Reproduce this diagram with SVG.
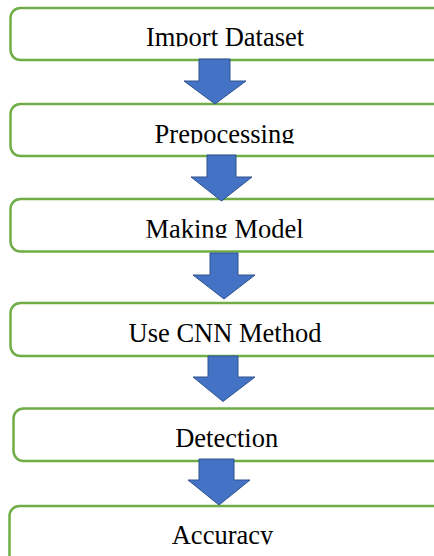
<svg xmlns="http://www.w3.org/2000/svg" width="434" height="556" viewBox="0 0 434 556">
  <style>
    .box { fill: #ffffff; stroke: #70ad47; stroke-width: 2.5; }
    .label { font-family: "Liberation Serif", "Times New Roman", serif; font-size: 26.5px; fill: #000000; text-anchor: middle; }
    .arrow { fill: #4472c4; stroke: #2f528f; stroke-width: 1; stroke-linejoin: miter; }
  </style>
  <defs>
    <!-- labels are cut off just below their baseline -->
    <clipPath id="clip1"><rect x="0" y="0" width="434" height="46.5"/></clipPath>
    <clipPath id="clip2"><rect x="0" y="104" width="434" height="39.5"/></clipPath>
    <clipPath id="clip3"><rect x="0" y="199" width="434" height="38.8"/></clipPath>
    <clipPath id="clip4"><rect x="0" y="303" width="434" height="40"/></clipPath>
    <clipPath id="clip5"><rect x="0" y="408" width="434" height="40"/></clipPath>
    <clipPath id="clip6"><rect x="0" y="506" width="434" height="38.5"/></clipPath>
  </defs>

  <rect width="434" height="556" fill="#ffffff"/>

  <g id="node-import">
    <rect class="box" x="10.5" y="8" width="432" height="52" rx="10"/>
    <text class="label" x="225" y="45.5" clip-path="url(#clip1)">Import Dataset</text>
  </g>
  <g id="node-preprocessing">
    <rect class="box" x="10.5" y="104" width="432" height="52" rx="10"/>
    <text class="label" x="224.5" y="142.5" clip-path="url(#clip2)">Prepocessing</text>
  </g>
  <g id="node-model">
    <rect class="box" x="10.5" y="199" width="432" height="52.5" rx="10"/>
    <text class="label" x="224.5" y="237.5" clip-path="url(#clip3)">Making Model</text>
  </g>
  <g id="node-cnn">
    <rect class="box" x="10.5" y="303" width="432" height="53" rx="10"/>
    <text class="label" x="225" y="341.7" clip-path="url(#clip4)">Use CNN Method</text>
  </g>
  <g id="node-detection">
    <rect class="box" x="13.5" y="408.5" width="430" height="52.5" rx="10"/>
    <text class="label" x="226.7" y="446.7" clip-path="url(#clip5)">Detection</text>
  </g>
  <g id="node-accuracy">
    <rect class="box" x="9.5" y="506" width="433" height="70" rx="10"/>
    <text class="label" x="222.5" y="543.5" clip-path="url(#clip6)">Accuracy</text>
  </g>

  <g id="connectors">
    <polygon class="arrow" points="199,59 230,59 230,81 246,81 215,104 184,81 199,81"/>
    <polygon class="arrow" points="207,155 236,155 236,177 252,177 221.5,201 191,177 207,177"/>
    <polygon class="arrow" points="210,253 238,253 238,275 255,275 224,299 193,275 210,275"/>
    <polygon class="arrow" points="208,356 238,356 238,377 255,377 223,401.5 193,377 208,377"/>
    <polygon class="arrow" points="199,459 234,459 234,480 250,480 219,505 188,480 199,480"/>
  </g>
</svg>
